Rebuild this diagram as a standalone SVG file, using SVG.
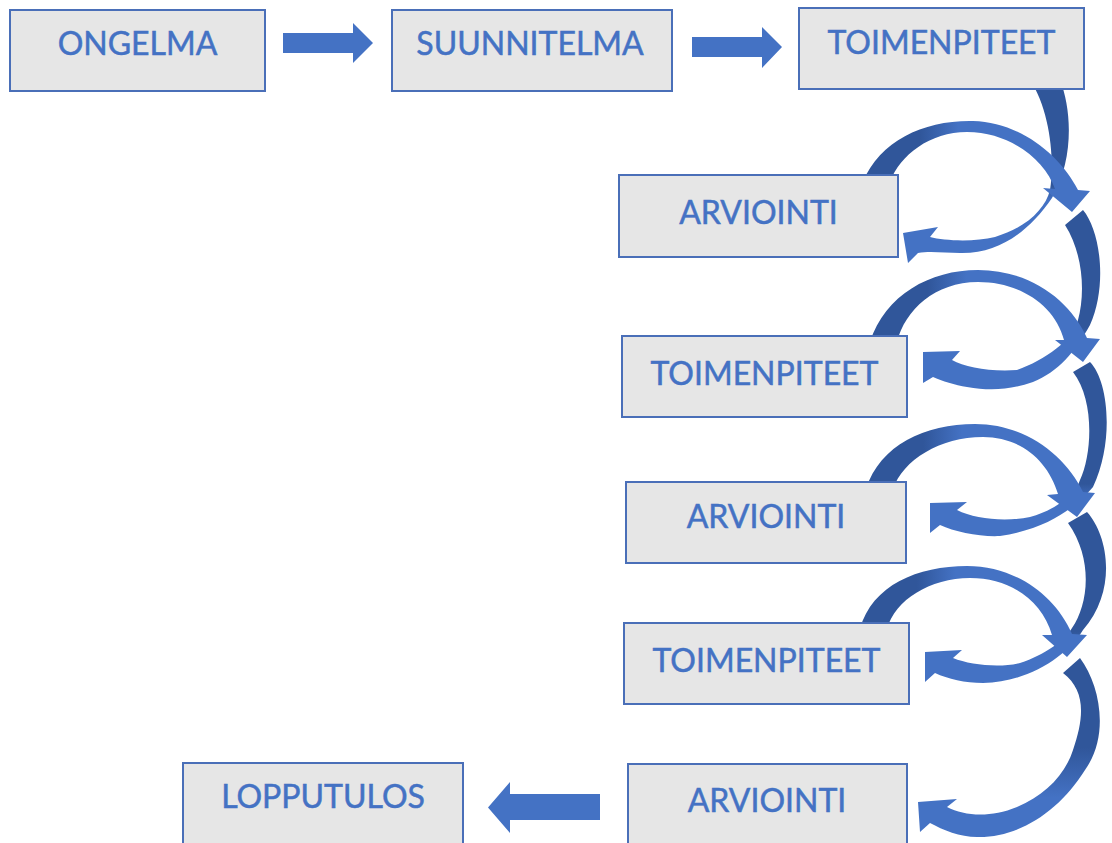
<svg xmlns="http://www.w3.org/2000/svg" width="1112" height="843" viewBox="0 0 1112 843">
<defs>
<style>
.box{fill:#E6E6E6;stroke:#4A6FB8;stroke-width:2}
.lbl{font-family:Lato,"Liberation Sans",sans-serif;font-size:32px;fill:#4472C4;stroke:#4472C4;stroke-width:0.5;text-anchor:middle}
.st{fill:#4472C4}
</style>
<linearGradient id="gC" x1="0" y1="0" x2="1" y2="0">
<stop offset="0" stop-color="#30569A"/><stop offset="0.25" stop-color="#30569A"/><stop offset="0.42" stop-color="#4472C4"/><stop offset="1" stop-color="#4472C4"/>
</linearGradient>
<linearGradient id="gB1" gradientUnits="userSpaceOnUse" x1="0" y1="80" x2="0" y2="262">
<stop offset="0" stop-color="#30569A"/><stop offset="0.58" stop-color="#30569A"/><stop offset="0.66" stop-color="#4472C4"/><stop offset="1" stop-color="#4472C4"/>
</linearGradient>
<linearGradient id="gB2" gradientUnits="userSpaceOnUse" x1="0" y1="210" x2="0" y2="388">
<stop offset="0" stop-color="#30569A"/><stop offset="0.66" stop-color="#30569A"/><stop offset="0.76" stop-color="#4472C4"/><stop offset="1" stop-color="#4472C4"/>
</linearGradient>
<linearGradient id="gB3" gradientUnits="userSpaceOnUse" x1="0" y1="362" x2="0" y2="536">
<stop offset="0" stop-color="#30569A"/><stop offset="0.7" stop-color="#30569A"/><stop offset="0.8" stop-color="#4472C4"/><stop offset="1" stop-color="#4472C4"/>
</linearGradient>
<linearGradient id="gB4" gradientUnits="userSpaceOnUse" x1="0" y1="512" x2="0" y2="683">
<stop offset="0" stop-color="#30569A"/><stop offset="0.7" stop-color="#30569A"/><stop offset="0.8" stop-color="#4472C4"/><stop offset="1" stop-color="#4472C4"/>
</linearGradient>
<linearGradient id="gB5" gradientUnits="userSpaceOnUse" x1="0" y1="658" x2="0" y2="837">
<stop offset="0" stop-color="#30569A"/><stop offset="0.5" stop-color="#30569A"/><stop offset="0.78" stop-color="#4472C4"/><stop offset="1" stop-color="#4472C4"/>
</linearGradient>
</defs>
<rect width="1112" height="843" fill="#FFFFFF"/>
<g id="connectors">
<path class="st" d="M283,33 H353 V23 L373,43 L353,63 V53 H283 Z"/>
<path class="st" d="M692,37 H762 V27 L782,47 L762,68 V57 H692 Z"/>
<path class="st" d="M600,794 H510 V782 L488,807.5 L510,833 V820 H600 Z"/>
<path fill="url(#gB1)" d="M1030,80 L1060,80 C1072,110 1074,160 1052,198 C1030,230 1000,254 960,253 C945,253 930,251 918,253 L908,263 L903,233 L938,227 L930,237 C945,241 975,242 995,237 C1025,228 1045,210 1050,190 C1055,160 1050,110 1030,80 Z"/>
<path fill="url(#gC)" d="M863,182 C880,140 925,120 973,121 C1020,122 1060,155 1078,190 L1090,191 L1072,212 L1043,188 L1055,189 C1045,160 1010,132 967,132 C930,132 900,155 890,182 Z"/>
<path fill="url(#gB2)" d="M1065,225 L1083,210 C1100,230 1108,285 1090,325 C1075,352 1058,372 1033,382 C1010,390 990,391 967,387 C955,385 942,381 933,377 L923,383 L923,352 L960,351 L952,360 C965,367 990,372 1017,370 C1045,360 1073,340 1078,320 C1085,295 1084,255 1065,225 Z"/>
<path fill="url(#gC)" d="M870,342 C885,295 930,270 978,270 C1030,270 1070,300 1087,338 L1100,339 L1083,362 L1055,340 L1064,340 C1055,305 1020,282 978,282 C935,282 905,310 897,342 Z"/>
<path fill="url(#gB3)" d="M1073,372 L1090,362 C1108,380 1115,440 1093,487 C1082,500 1055,528 1000,536 C980,537 955,532 940,525 L930,533 L930,503 L967,502 L957,510 C975,519 1005,522 1030,517 C1055,510 1075,495 1080,480 C1092,455 1095,400 1073,372 Z"/>
<path fill="url(#gC)" d="M866,489 C880,445 925,424 975,424 C1025,424 1065,455 1083,492 L1095,493 L1077,517 L1047,495 L1058,494 C1048,460 1020,437 983,437 C940,437 903,460 893,489 Z"/>
<path fill="url(#gB4)" d="M1068,523 L1087,512 C1108,535 1118,590 1083,630 C1068,655 1030,682 983,683 C965,683 948,679 935,673 L925,682 L925,652 L962,650 L953,658 C970,665 1000,668 1020,663 C1045,655 1065,640 1072,628 C1088,605 1094,560 1068,523 Z"/>
<path fill="url(#gC)" d="M860,629 C872,585 918,566 967,566 C1015,566 1055,595 1072,634 L1087,635 L1067,657 L1042,635 L1052,635 C1042,600 1010,578 970,578 C930,578 895,600 887,629 Z"/>
<path fill="url(#gB5)" d="M1063,673 L1080,658 C1100,685 1110,735 1085,770 C1060,810 1020,838 977,837 C960,837 943,830 930,823 L920,832 L918,802 L957,799 L947,807 C965,816 990,818 1017,807 C1045,795 1065,775 1073,750 C1085,715 1085,690 1063,673 Z"/>
</g>
<g id="n-ongelma"><rect class="box" x="10" y="10" width="255" height="81"/><text class="lbl" x="137.5" y="55">ONGELMA</text></g>
<g id="n-suunnitelma"><rect class="box" x="392" y="10" width="280" height="81"/><text class="lbl" x="530" y="55">SUUNNITELMA</text></g>
<g id="n-toimenpiteet1"><rect class="box" x="799" y="8" width="285" height="81"/><text class="lbl" x="941.5" y="54">TOIMENPITEET</text></g>
<g id="n-arviointi1"><rect class="box" x="619" y="175" width="279" height="82"/><text class="lbl" x="758.5" y="224">ARVIOINTI</text></g>
<g id="n-toimenpiteet2"><rect class="box" x="622" y="336" width="285" height="81"/><text class="lbl" x="764.5" y="385">TOIMENPITEET</text></g>
<g id="n-arviointi2"><rect class="box" x="626" y="482" width="280" height="81"/><text class="lbl" x="766" y="528">ARVIOINTI</text></g>
<g id="n-toimenpiteet3"><rect class="box" x="624" y="623" width="285" height="81"/><text class="lbl" x="766.5" y="672">TOIMENPITEET</text></g>
<g id="n-arviointi3"><rect class="box" x="628" y="764" width="279" height="90"/><text class="lbl" x="767" y="812">ARVIOINTI</text></g>
<g id="n-lopputulos"><rect class="box" x="183" y="763" width="280" height="90"/><text class="lbl" x="323" y="808">LOPPUTULOS</text></g>
</svg>
